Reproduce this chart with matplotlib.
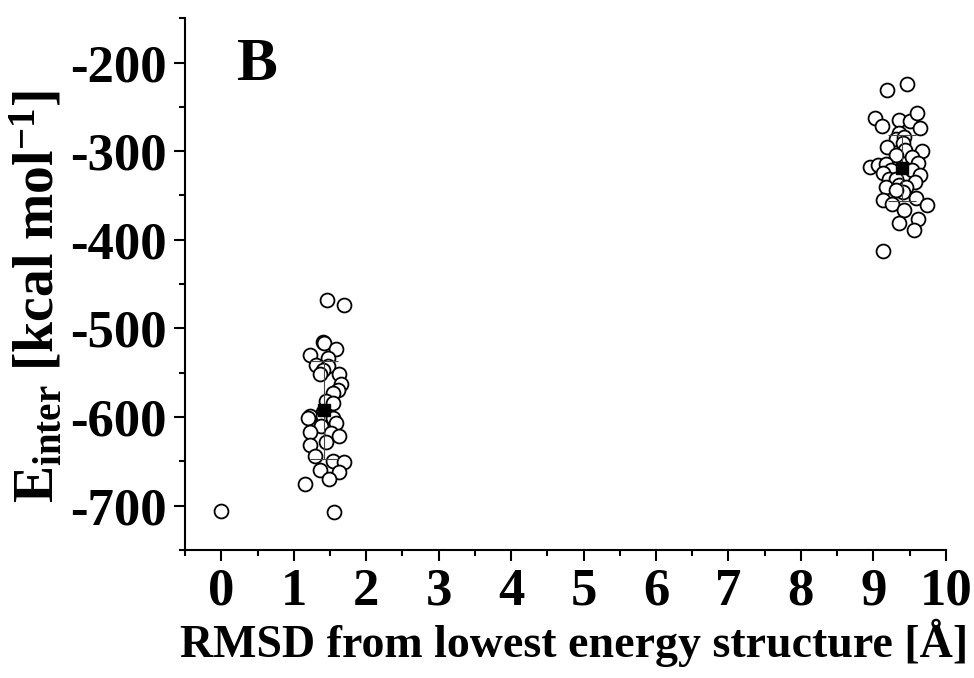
import matplotlib.pyplot as plt
from matplotlib.ticker import MultipleLocator

plt.rcParams['font.family'] = ['Liberation Serif', 'DejaVu Serif']
plt.rcParams['font.weight'] = 'bold'
plt.rcParams['axes.unicode_minus'] = False
plt.rcParams['mathtext.fontset'] = 'custom'
plt.rcParams['mathtext.rm'] = 'Liberation Serif:bold'
plt.rcParams['mathtext.bf'] = 'Liberation Serif:bold'
plt.rcParams['mathtext.it'] = 'Liberation Serif:bold'

# cluster near the lowest energy structure (RMSD ~1.4 A) plus the reference at 0
rmsd_a = [0.00, 1.46, 1.69, 1.40, 1.42, 1.59, 1.23, 1.47, 1.31, 1.47, 1.40,
          1.36, 1.63, 1.65, 1.61, 1.54, 1.45, 1.54, 1.40, 1.22, 1.20, 1.40,
          1.54, 1.59, 1.38, 1.22, 1.52, 1.63, 1.45, 1.23, 1.29, 1.54, 1.69,
          1.36, 1.62, 1.48, 1.15, 1.56]
e_a = [-706, -468, -474, -515, -516, -523, -530, -534, -541, -543, -547,
       -552, -551, -563, -569, -573, -582, -584, -594, -599, -601, -599,
       -601, -607, -610, -617, -618, -622, -628, -632, -644, -650, -651,
       -660, -662, -670, -676, -707]

# cluster far away (RMSD ~9.4 A)
rmsd_b = [9.19, 9.46, 9.02, 9.12, 9.36, 9.51, 9.60, 9.65, 9.35, 9.32, 9.43,
          9.19, 9.41, 9.44, 9.67, 9.32, 9.53, 9.62, 8.95, 9.07, 9.18, 9.25,
          9.14, 9.53, 9.65, 9.21, 9.32, 9.58, 9.18, 9.35, 9.45, 9.41, 9.32,
          9.14, 9.26, 9.59, 9.74, 9.43, 9.35, 9.62, 9.56, 9.14]
e_b = [-231, -224, -263, -271, -265, -266, -257, -274, -280, -286, -284,
       -295, -291, -299, -300, -304, -307, -313, -318, -316, -314, -321,
       -325, -321, -327, -331, -331, -335, -340, -338, -340, -346, -344,
       -355, -360, -353, -361, -366, -381, -377, -389, -413]

# cluster means with standard deviations
mean_x = [1.42, 9.40]
mean_y = [-592, -319]
mean_err = [55, 37]

fig = plt.figure(figsize=(9.74, 6.78), dpi=100)
ax = fig.add_axes([0.190, 0.189, 0.781, 0.784])

ax.plot(rmsd_a, e_a, 'o', mfc='white', mec='black', mew=1.3, ms=10, ls='none')
ax.plot(rmsd_b, e_b, 'o', mfc='white', mec='black', mew=1.3, ms=10, ls='none')
ax.errorbar(mean_x, mean_y, yerr=mean_err, fmt='s', color='black', ms=9,
            ecolor='#444444', elinewidth=0.8, capsize=10, capthick=0.8, zorder=5)

ax.set_xlim(-0.5, 10)
ax.set_ylim(-750, -150)
ax.xaxis.set_major_locator(MultipleLocator(1))
ax.xaxis.set_minor_locator(MultipleLocator(0.5))
ax.yaxis.set_major_locator(MultipleLocator(100))
ax.yaxis.set_minor_locator(MultipleLocator(50))

for s in ['top', 'right']:
    ax.spines[s].set_visible(False)
for s in ['left', 'bottom']:
    ax.spines[s].set_linewidth(1.5)

ax.tick_params(which='major', direction='out', length=8, width=1.5, labelsize=38, pad=5)
ax.tick_params(which='minor', direction='out', length=4.5, width=1.5)

ax.set_xlabel('RMSD from lowest energy structure [Å]', fontsize=33, fontweight='bold',
              labelpad=2, x=0.512)
ax.set_ylabel(r'E$_{\mathregular{inter}}$ [kcal mol$^{\mathregular{-1}}$]', fontsize=40,
              fontweight='bold', labelpad=4, y=0.476)

ax.text(0.068, 0.965, 'B', transform=ax.transAxes, fontsize=44, fontweight='bold',
        va='top', ha='left')

fig.savefig('out.png', dpi=100)
